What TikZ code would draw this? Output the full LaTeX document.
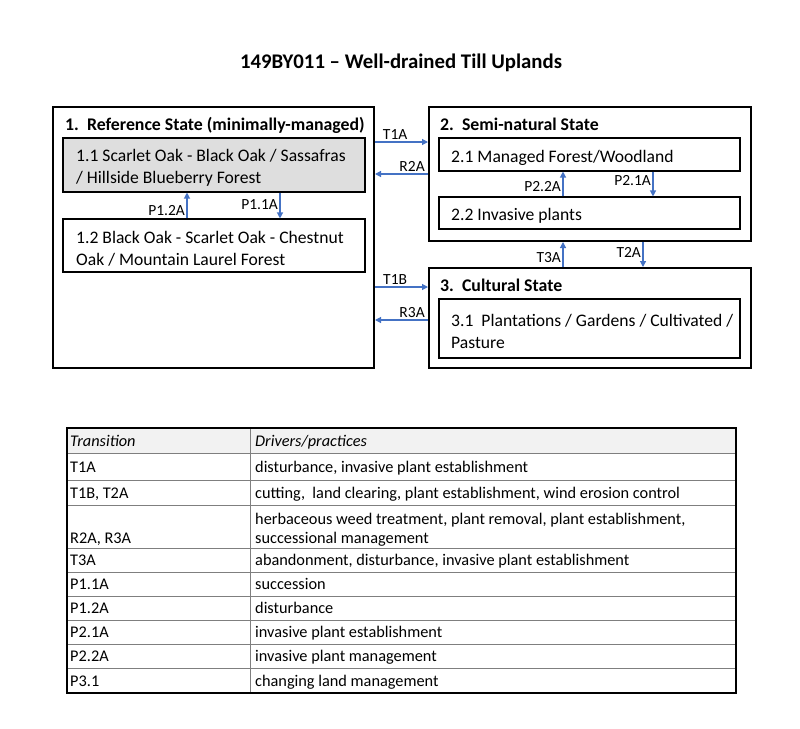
\documentclass[tikz,border=0pt]{standalone}
\usepackage{fontspec}
\setmainfont{Carlito}
\usetikzlibrary{arrows.meta,calc}
\definecolor{arrblue}{HTML}{4472C4}
\definecolor{boxgray}{HTML}{DEDEDE}
\definecolor{hdrgray}{HTML}{F2F2F2}
\definecolor{rulegray}{HTML}{7F7F7F}
\begin{document}
\begin{tikzpicture}[x=1pt,y=-1pt,
  outerbox/.style={draw=black,line width=2pt,rectangle,inner sep=0pt},
  innerbox/.style={draw=black,line width=1.1pt,rectangle,inner sep=0pt},
  boxtxt/.style={anchor=west,inner sep=0pt,align=left,font=\fontsize{17.6}{22.5}\selectfont},
  headtxt/.style={anchor=west,inner sep=0pt,font=\fontsize{17.8}{20}\selectfont\bfseries},
  arr/.style={draw=arrblue,line width=1.2pt,-{Triangle[length=6pt,width=6pt]}},
  lbl/.style={font=\fontsize{15.5}{18}\selectfont,inner sep=1.5pt,text=black},
  cell/.style={anchor=base west,inner sep=0pt,font=\fontsize{16.3}{19}\selectfont},
]
\useasboundingbox (0,0) rectangle (800,728);

% title
\node[font=\fontsize{20.8}{24}\selectfont\bfseries] (title) at (401,62.5) {149BY011 -- Well-drained Till Uplands};

% state 1
\node[outerbox,minimum width=321,minimum height=261] (b1) at (213.5,237.5) {};
\node[headtxt] (h1) at (65,125) {1.\ \ Reference State (minimally-managed)};
\node[innerbox,fill=boxgray,minimum width=302,minimum height=54] (b11) at (214,165) {};
\node[boxtxt] (t11) at (76,168) {1.1 Scarlet Oak - Black Oak / Sassafras\\/ Hillside Blueberry Forest};
\node[innerbox,minimum width=302,minimum height=53] (b12) at (214,245.5) {};
\node[boxtxt] (t12) at (76,249) {1.2 Black Oak - Scarlet Oak - Chestnut\\Oak / Mountain Laurel Forest};

% state 2
\node[outerbox,minimum width=322,minimum height=134] (b2) at (590,174) {};
\node[headtxt] (h2) at (440,124) {2.\ \ Semi-natural State};
\node[innerbox,minimum width=301,minimum height=33] (b21) at (589.5,154.5) {};
\node[boxtxt] (t21) at (451,157.5) {2.1 Managed Forest/Woodland};
\node[innerbox,minimum width=301,minimum height=32] (b22) at (589.5,213) {};
\node[boxtxt] (t22) at (451,216) {2.2 Invasive plants};

% state 3
\node[outerbox,minimum width=322,minimum height=100] (b3) at (590,318) {};
\node[headtxt] (h3) at (440,285) {3.\ \ Cultural State};
\node[innerbox,minimum width=301,minimum height=59] (b31) at (589.5,328.5) {};
\node[boxtxt] (t31) at (451,331.5) {3.1\ \ Plantations / Gardens / Cultivated /\\Pasture};

% within-state pathways
\draw[arr] ([xshift=-27pt]b12.north) -- ([xshift=-27pt]b11.south)
  node[lbl,left,pos=0.3] (lp12) {P1.2A};
\draw[arr] ([xshift=66pt]b11.south) -- ([xshift=66pt]b12.north)
  node[lbl,left,pos=0.45] (lp11) {P1.1A};
\draw[arr] ([xshift=-26.5pt]b22.north) -- ([xshift=-26.5pt]b21.south)
  node[lbl,left,pos=0.38] (lp22) {P2.2A};
\draw[arr] ([xshift=63.5pt]b21.south) -- ([xshift=63.5pt]b22.north)
  node[lbl,left,pos=0.38] (lp21) {P2.1A};

% transitions
\draw[arr] ([yshift=-36pt]b1.north east) -- ([yshift=-36pt]b1.north east -| b2.west)
  node[lbl,above,pos=0.38] (lt1a) {T1A};
\draw[arr] ([yshift=-68pt]b2.north west) -- ([yshift=-68pt]b2.north west -| b1.east)
  node[lbl,above,pos=0.3] (lr2a) {R2A};
\draw[arr] ([yshift=-20pt]b3.north west -| b1.east) -- ([yshift=-20pt]b3.north west)
  node[lbl,above,pos=0.38] (lt1b) {T1B};
\draw[arr] ([yshift=-53pt]b3.north west) -- ([yshift=-53pt]b3.north west -| b1.east)
  node[lbl,above,pos=0.3] (lr3a) {R3A};
\draw[arr] ([xshift=-27pt]b3.north) -- ([xshift=-27pt]b2.south)
  node[lbl,left,pos=0.37] (lt3a) {T3A};
\draw[arr] ([xshift=53pt]b2.south) -- ([xshift=53pt]b3.north)
  node[lbl,left,pos=0.4] (lt2a) {T2A};

% table
\fill[hdrgray] (67,428) rectangle (736,453);
\foreach \yy in {453,480,505,548,572,596,620,644,668}
  \draw[rulegray,line width=0.9pt] (67,\yy) -- (736,\yy);
\draw[rulegray,line width=0.9pt] (250,428) -- (250,693);
\node[outerbox,minimum width=669,minimum height=265] (tbl) at (401.5,560.5) {};

\node[cell,font=\fontsize{16.3}{19}\selectfont\itshape] (c0a) at (70,446) {Transition};
\node[cell,font=\fontsize{16.3}{19}\selectfont\itshape] (c0b) at (255,446) {Drivers/practices};
\node[cell] (c1a) at (70,472) {T1A};
\node[cell] (c1b) at (255,472) {disturbance, invasive plant establishment};
\node[cell] (c2a) at (70,498) {T1B, T2A};
\node[cell] (c2b) at (255,498) {cutting,\ \ land clearing, plant establishment, wind erosion control};
\node[cell] (c3a) at (70,543.5) {R2A, R3A};
\node[cell] (c3b) at (255,524.5) {herbaceous weed treatment, plant removal, plant establishment,};
\node[cell] (c3c) at (255,543.5) {successional management};
\node[cell] (c4a) at (70,565.5) {T3A};
\node[cell] (c4b) at (255,565.5) {abandonment, disturbance, invasive plant establishment};
\node[cell] (c5a) at (70,589.5) {P1.1A};
\node[cell] (c5b) at (255,589.5) {succession};
\node[cell] (c6a) at (70,613.5) {P1.2A};
\node[cell] (c6b) at (255,613.5) {disturbance};
\node[cell] (c7a) at (70,637.5) {P2.1A};
\node[cell] (c7b) at (255,637.5) {invasive plant establishment};
\node[cell] (c8a) at (70,661.5) {P2.2A};
\node[cell] (c8b) at (255,661.5) {invasive plant management};
\node[cell] (c9a) at (70,686) {P3.1};
\node[cell] (c9b) at (255,686) {changing land management};
\end{tikzpicture}
\end{document}
